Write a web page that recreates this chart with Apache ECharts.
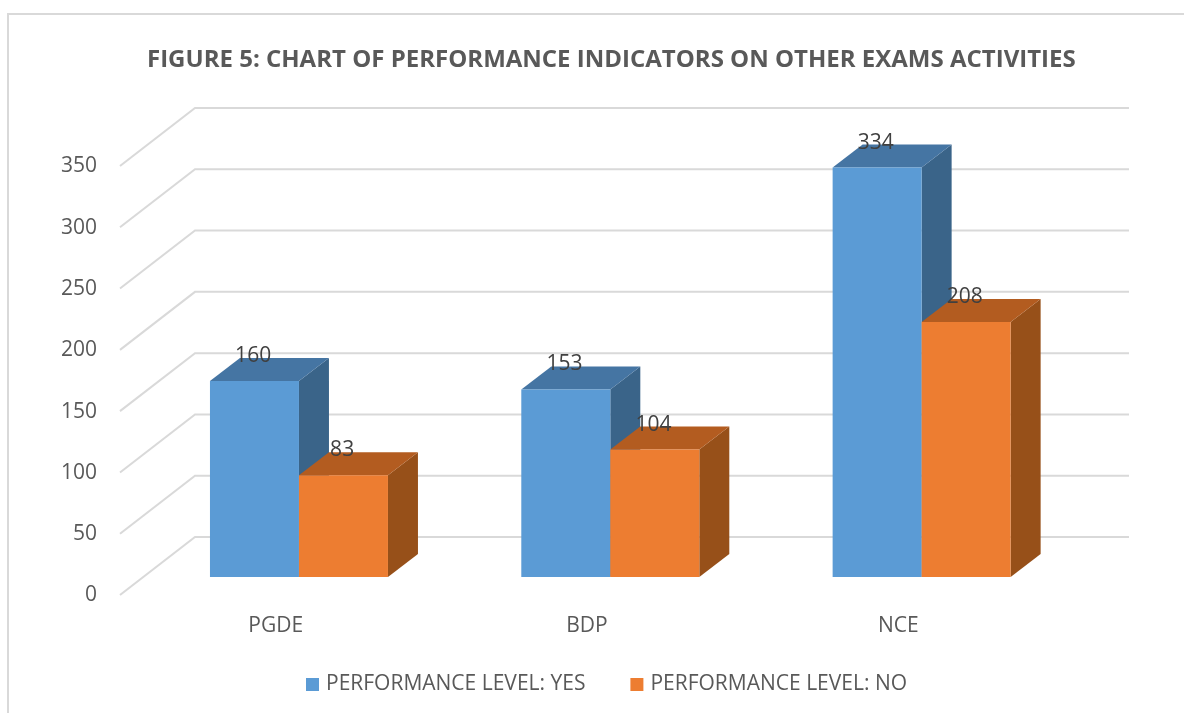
<!DOCTYPE html>
<html><head><meta charset="utf-8">
<style>html,body{margin:0;padding:0;background:#fff}#c{width:1184px;height:713px}</style>
<script src="https://cdn.jsdelivr.net/npm/echarts@6/dist/echarts.min.js"></script>
</head><body><div id="c"></div>
<script>
const titleText = 'FIGURE 5: CHART OF PERFORMANCE INDICATORS ON OTHER EXAMS ACTIVITIES';
const categories = ['PGDE', 'BDP', 'NCE'];
const yesName = 'PERFORMANCE LEVEL: YES';
const noName = 'PERFORMANCE LEVEL: NO';
const yesValues = [160, 153, 334];
const noValues = [83, 104, 208];
const yTicks = [0, 50, 100, 150, 200, 250, 300, 350];

const FONT = '"Open Sans", sans-serif';
const wallDX = 75, wallDY = -58;      // back wall offset from the axis plane
const frontDX = 23.3, frontDY = -18;  // bar front face offset from the axis plane
const depthDX = 30, depthDY = -23;    // bar depth
const barFrac = 89 / 311.33;

function wallItem(params, api) {
  const p = api.coord([0, api.value(0)]);
  const cs = params.coordSys;
  const x0 = cs.x, y = p[1];
  return {
    type: 'polyline', silent: true,
    shape: { points: [[x0, y], [x0 + wallDX, y + wallDY], [x0 + cs.width + wallDX, y + wallDY]] },
    style: { stroke: '#d9d9d9', lineWidth: 2, fill: null }
  };
}
function barItem(side, front, top, dark) {
  return function (params, api) {
    const c = api.coord([api.value(0), 0]);
    const t = api.coord([api.value(0), api.value(1)]);
    const w = api.size([1, 0])[0] * barFrac;
    const xl = c[0] + frontDX + (side < 0 ? -w : 0), xr = xl + w;
    const yb = c[1] + frontDY, yt = t[1] + frontDY;
    const poly = (pts, fill) => ({ type: 'polygon', shape: { points: pts }, style: { fill: fill } });
    return {
      type: 'group',
      children: [
        poly([[xr, yt], [xr + depthDX, yt + depthDY], [xr + depthDX, yb + depthDY], [xr, yb]], dark),
        poly([[xl, yt], [xl + depthDX, yt + depthDY], [xr + depthDX, yt + depthDY], [xr, yt]], top),
        poly([[xl, yt], [xr, yt], [xr, yb], [xl, yb]], front),
        { type: 'text', style: {
            x: xl + w * 0.485, y: yt - 25, text: String(api.value(1)),
            fill: '#404040', font: '21px ' + FONT, align: 'center', verticalAlign: 'middle' } }
      ]
    };
  };
}
const chart = echarts.init(document.getElementById('c'), null, { renderer: 'canvas' });
chart.setOption({
  animation: false,
  backgroundColor: '#ffffff',
  graphic: [{ type: 'rect', silent: true, z: -1,
    shape: { x: 8, y: 14, width: 1200, height: 720 },
    style: { fill: 'none', stroke: '#d9d9d9', lineWidth: 2 } }],
  title: { text: titleText, left: 142, top: 43,
    textStyle: { fontFamily: FONT, fontWeight: 'bold', fontSize: 24, color: '#595959' } },
  grid: { left: 120, top: 166, width: 934, height: 429 },
  legend: { left: 301, top: 669, itemWidth: 13, itemHeight: 13, itemGap: 45, icon: 'rect',
    data: [yesName, noName],
    textStyle: { fontFamily: FONT, fontSize: 21, color: '#595959', padding: [0, 0, 0, 2] } },
  xAxis: { type: 'category', data: categories,
    axisLine: { show: false }, axisTick: { show: false },
    axisLabel: { margin: 21, fontFamily: FONT, fontSize: 21, color: '#595959' } },
  yAxis: { type: 'value', min: 0, max: 350, interval: 50,
    axisLine: { show: false }, axisTick: { show: false }, splitLine: { show: false },
    axisLabel: { margin: 23, fontFamily: FONT, fontSize: 21, color: '#595959', verticalAlign: 'top', lineHeight: 1 } },
  series: [
    { type: 'custom', name: 'walls', silent: true, z: 1, renderItem: wallItem,
      encode: { y: 0 }, data: yTicks.map(v => [v]) , clip: false},
    { type: 'custom', name: yesName, z: 2, itemStyle: { color: '#5B9BD5' }, clip: false,
      renderItem: barItem(-1, '#5B9BD5', '#4575A3', '#3A6489'),
      encode: { x: 0, y: 1 }, data: yesValues.map((v, i) => [i, v]) },
    { type: 'custom', name: noName, z: 3, itemStyle: { color: '#ED7D31' }, clip: false,
      renderItem: barItem(1, '#ED7D31', '#B35C20', '#975019'),
      encode: { x: 0, y: 1 }, data: noValues.map((v, i) => [i, v]) }
  ]
});
</script></body></html>
